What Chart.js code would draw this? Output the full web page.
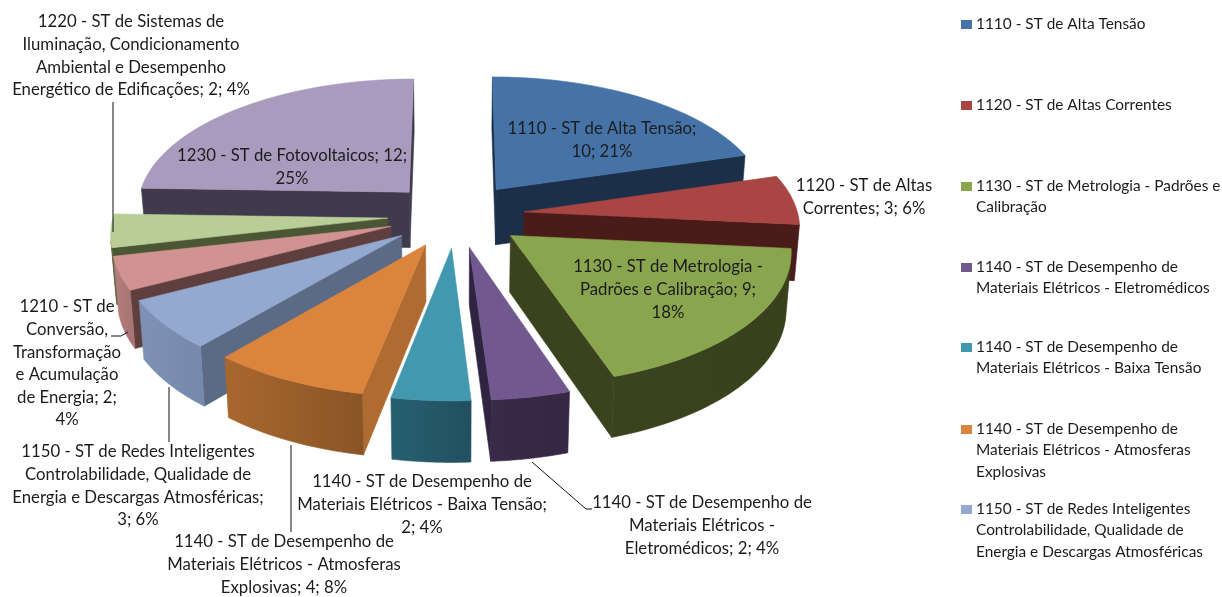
<!DOCTYPE html>
<html>
<head>
<meta charset="utf-8">
<style>
html,body{margin:0;padding:0;background:#fff}
canvas{display:block}
</style>
<script src="https://cdn.jsdelivr.net/npm/chart.js@4"></script>
</head>
<body>
<canvas id="pieChart" width="1222" height="597"></canvas>
<script>
/* ===== data ===== */
const categories = [
"1110 - ST de Alta Tensão",
"1120 - ST de Altas Correntes",
"1130 - ST de Metrologia - Padrões e Calibração",
"1140 - ST de Desempenho de Materiais Elétricos - Eletromédicos",
"1140 - ST de Desempenho de Materiais Elétricos - Baixa Tensão",
"1140 - ST de Desempenho de Materiais Elétricos - Atmosferas Explosivas",
"1150 - ST de Redes Inteligentes Controlabilidade, Qualidade de Energia e Descargas Atmosféricas",
"1210 - ST de Conversão, Transformação e Acumulação de Energia",
"1220 - ST de Sistemas de Iluminação, Condicionamento Ambiental e Desempenho Energético de Edificações",
"1230 - ST de Fotovoltaicos"
];
const values = [10,3,9,2,2,4,3,2,2,12];

/* ===== colours per slice ===== */
const topColors   = ["#4573a7","#a94643","#89a54e","#71588f","#4198af","#db843d","#93a9cf","#d19392","#b9cd96","#a99bbd"];
const sideColors  = ["#1b2f49","#4a1c19","#3a421e","#382a48","#27606f","#a9672f","#7e92b5","#b57f7e","#59653a","#453f52"];
const sideDark    = ["#1b2f49","#4a1c19","#38401c","#362844","#215060","#8a5526","#7489ac","#a87573","#59653a","#453f52"];
const edgeColors  = ["#1b2f49","#4a1c19","#3a421e","#2f2440","#27606f","#b06b30","#5b6a85","#5f3f3e","#4b5634","#403a4c"];

/* ===== text ===== */
const labelFont = "16.75px Lato";
const legendFont = "15.4px Lato";
const textColor = "#1c1c1c";
const lineGap = 22.6;

const sliceLabels = [
{x:602,y:129,lines:["1110 - ST de Alta Tensão;","10; 21%"]},
{x:864,y:186,lines:["1120 - ST de Altas","Correntes; 3; 6%"]},
{x:668,y:267,lines:["1130 - ST de Metrologia -","Padrões e Calibração; 9;","18%"]},
{x:702,y:503,lines:["1140 - ST de Desempenho de","Materiais Elétricos -","Eletromédicos; 2; 4%"]},
{x:422,y:482,lines:["1140 - ST de Desempenho de","Materiais Elétricos - Baixa Tensão;","2; 4%"]},
{x:284,y:542,lines:["1140 - ST de Desempenho de","Materiais Elétricos - Atmosferas","Explosivas; 4; 8%"]},
{x:138,y:452,lines:["1150 - ST de Redes Inteligentes","Controlabilidade, Qualidade de","Energia e Descargas Atmosféricas;","3; 6%"]},
{x:67,y:307,lines:["1210 - ST de","Conversão,","Transformação","e Acumulação","de Energia; 2;","4%"]},
{x:131,y:22,lines:["1220 - ST de Sistemas de","Iluminação, Condicionamento","Ambiental e Desempenho","Energético de Edificações; 2; 4%"]},
{x:292,y:156,lines:["1230 - ST de Fotovoltaicos; 12;","25%"]}
];

const legendRows = [
{y:24,lines:["1110 - ST de Alta Tensão"]},
{y:105,lines:["1120 - ST de Altas Correntes"]},
{y:186,lines:["1130 - ST de Metrologia - Padrões e","Calibração"]},
{y:267,lines:["1140 - ST de Desempenho de","Materiais Elétricos - Eletromédicos"]},
{y:347,lines:["1140 - ST de Desempenho de","Materiais Elétricos - Baixa Tensão"]},
{y:429,lines:["1140 - ST de Desempenho de","Materiais Elétricos - Atmosferas","Explosivas"]},
{y:509,lines:["1150 - ST de Redes Inteligentes","Controlabilidade, Qualidade de","Energia e Descargas Atmosféricas"]}
];

const leaderLines = [
[[113,102],[113,232]],
[[111,336],[121,336],[128,332]],
[[169,387],[169,442]],
[[291,445],[291,532]],
[[532,462],[586,509],[592,509]]
];

/* ===== view of the tilted pie ===== */
const viewA = 274;      // horizontal radius
const viewB = 129.4;    // vertical radius
const viewK = 0.104;    // perspective
const viewDepth = 56;   // height of the slices
const viewShrink = .985;// bottom of the slices is further from the eye
const explode = 0.25;   // slice pulled out, share of the radius


function project(cx,cy,u,v,low){

const w = 1 - viewK*v;
const s = low ? viewShrink : 1;

return [
cx + viewA*u*s/w,
cy + (viewB*v*s + (low ? viewDepth : 0))/w
];

}


function fillPoly(ctx,pts){

ctx.beginPath();
pts.forEach((p,i)=> i ? ctx.lineTo(p[0],p[1]) : ctx.moveTo(p[0],p[1]));
ctx.closePath();
ctx.fill();
ctx.stroke();

}


// wall is seen only when it turns towards the viewer
function facing(q){

let s = 0;

for(let i=0;i<q.length;i++){
const a = q[i], b = q[(i+1)%q.length];
s += a[0]*b[1] - b[0]*a[1];
}

return s < 0;

}


class Arc3D extends Chart.ArcElement {

draw(ctx){

const {x,y,startAngle,endAngle} = this;
const i = this.$context.dataIndex;
const mid = (startAngle+endAngle)/2;
const ou = explode*Math.cos(mid), ov = explode*Math.sin(mid);
const steps = 40;

const rim = [];
for(let s=0;s<=steps;s++){
const a = startAngle + (endAngle-startAngle)*s/steps;
rim.push([ou+Math.cos(a),ov+Math.sin(a)]);
}

const top = (p)=>project(x,y,p[0],p[1],false);
const low = (p)=>project(x,y,p[0],p[1],true);
const tip = [ou,ov];

ctx.save();
ctx.lineWidth = .6;
ctx.lineJoin = "round";

// radial walls
[[tip,rim[0]],[rim[steps],tip]].forEach(e=>{
const q = [top(e[0]),top(e[1]),low(e[1]),low(e[0])];
if(facing(q)){
ctx.fillStyle = ctx.strokeStyle = edgeColors[i];
fillPoly(ctx,q);
}
});

// outer wall as one piece, a bit darker to the right
const seen = [];
for(let s=0;s<steps;s++){
if(facing([top(rim[s]),top(rim[s+1]),low(rim[s+1]),low(rim[s])])){
if(!seen.includes(rim[s])) seen.push(rim[s]);
seen.push(rim[s+1]);
}
}

if(seen.length){
const xs = seen.map(p=>top(p)[0]);
const grad = ctx.createLinearGradient(Math.min(...xs),0,Math.max(...xs),0);
grad.addColorStop(0,sideColors[i]);
grad.addColorStop(1,sideDark[i]);
ctx.fillStyle = ctx.strokeStyle = grad;
fillPoly(ctx,seen.map(top).concat(seen.slice().reverse().map(low)));
}

// top face
ctx.fillStyle = ctx.strokeStyle = this.options.backgroundColor;
fillPoly(ctx,[top(tip)].concat(rim.map(top)));

ctx.restore();

}

}

Arc3D.id = "arc3d";
Arc3D.defaults = Chart.ArcElement.defaults;
Arc3D.defaultRoutes = Chart.ArcElement.defaultRoutes;


class Pie3DController extends Chart.PieController {

// far slices first, near slices cover them
draw(){

const ctx = this.chart.ctx;
const arcs = this._cachedMeta.data.slice();
const depth = a => Math.sin((a.startAngle+a.endAngle)/2);

arcs.sort((a,b)=>depth(a)-depth(b));
arcs.forEach(a=>a.draw(ctx));

}

}

Pie3DController.id = "pie3d";
Pie3DController.defaults = {dataElementType:"arc3d"};
Pie3DController.overrides = Chart.PieController.overrides;

Chart.register(Arc3D,Pie3DController);


/* ===== labels, leader lines, legend ===== */
const textPlugin = {

id:"pieText",

afterDraw(chart){

const ctx = chart.ctx;

ctx.save();

ctx.strokeStyle = "#111";
ctx.lineWidth = 1;

leaderLines.forEach(l=>{
ctx.beginPath();
l.forEach((p,i)=> i ? ctx.lineTo(p[0],p[1]) : ctx.moveTo(p[0],p[1]));
ctx.stroke();
});

ctx.font = labelFont;
ctx.fillStyle = textColor;
ctx.textBaseline = "middle";
ctx.textAlign = "center";

sliceLabels.forEach(l=>{
l.lines.forEach((t,i)=>ctx.fillText(t,l.x,l.y+i*lineGap));
});

ctx.font = legendFont;
ctx.textAlign = "left";

legendRows.forEach((r,n)=>{

ctx.fillStyle = topColors[n];
ctx.fillRect(961,r.y-4,11,9);

ctx.fillStyle = textColor;
r.lines.forEach((t,i)=>ctx.fillText(t,976,r.y+i*21.3));

});

ctx.restore();

}

};


new Chart(
document.getElementById("pieChart"),
{

type:"pie3d",

data:{
labels:categories,
datasets:[{
data:values,
backgroundColor:topColors
}]
},

options:{
responsive:false,
animation:false,
layout:{
padding:{right:310,bottom:167}
},
plugins:{
legend:{display:false},
tooltip:{enabled:false}
}
},

plugins:[textPlugin]

}
);
</script>
</body>
</html>
